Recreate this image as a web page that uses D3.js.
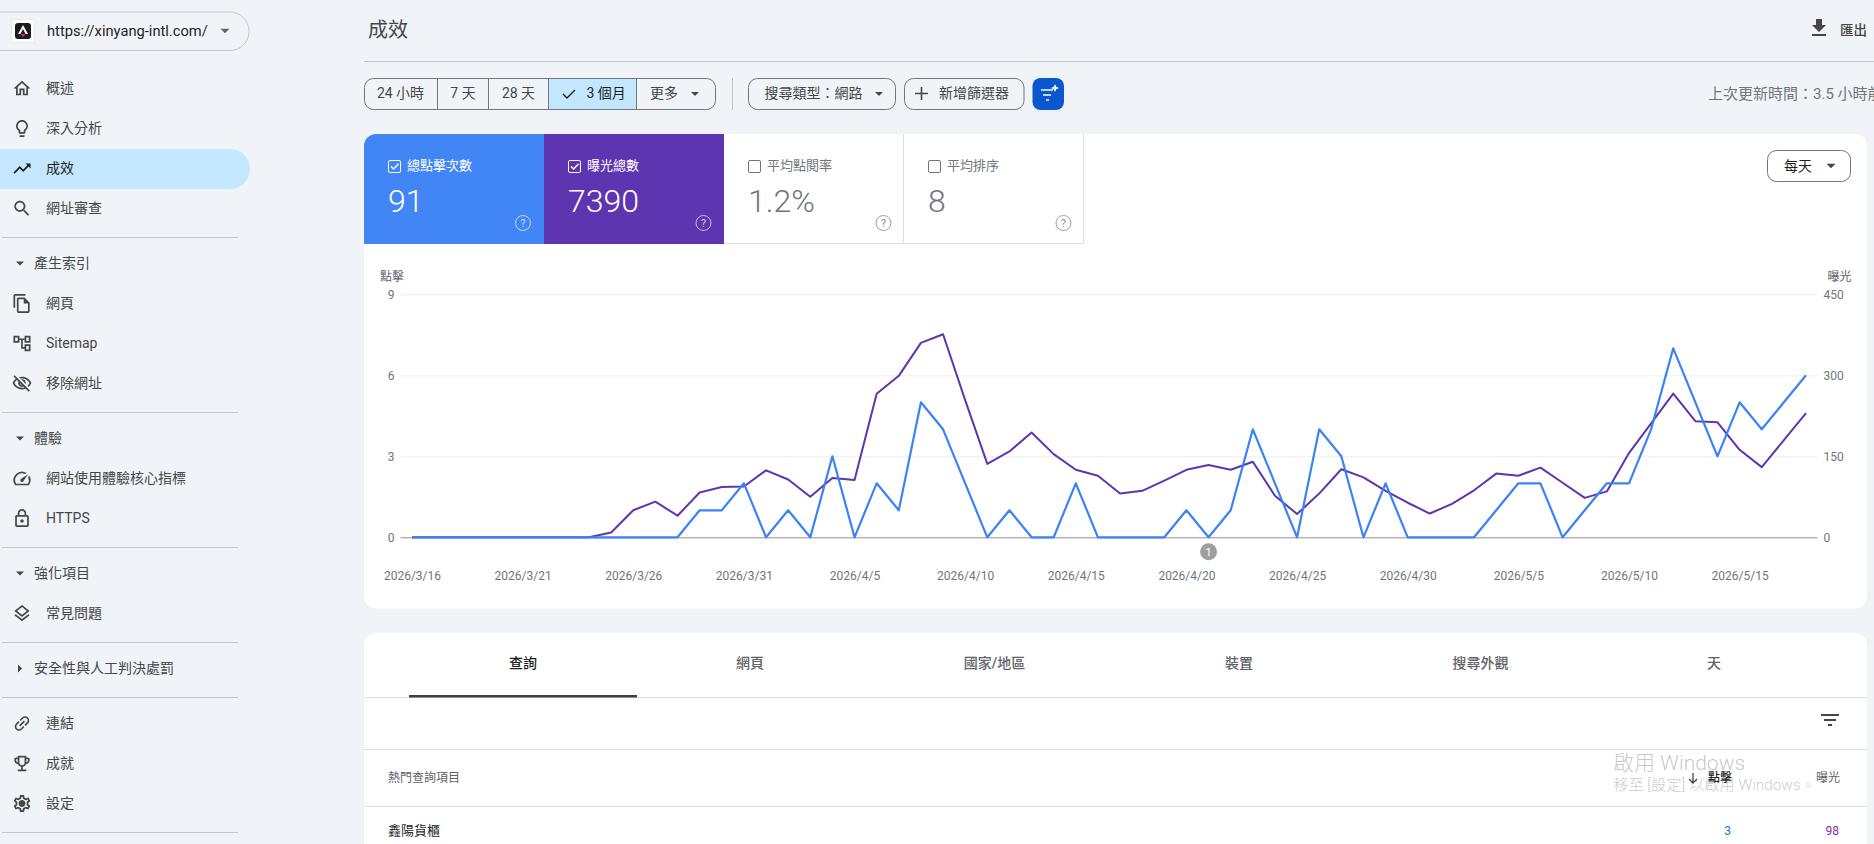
<!DOCTYPE html>
<html>
<head>
<meta charset="utf-8">
<title>成效</title>
<style>
  html, body { margin: 0; padding: 0; background: #f0f4f9; overflow: hidden; }
  svg { display: block; }
  text { font-family: Roboto, "Noto Sans CJK TC", sans-serif; }
  .tick text { font-family: Roboto, sans-serif; font-size: 12px; fill: #70757a; }
</style>
<script src="https://d3js.org/d3.v7.min.js"></script>
</head>
<body>
<script>
// chart data, one entry per day
var days = [
  "2026/3/16","2026/3/17","2026/3/18","2026/3/19","2026/3/20","2026/3/21","2026/3/22","2026/3/23",
  "2026/3/24","2026/3/25","2026/3/26","2026/3/27","2026/3/28","2026/3/29","2026/3/30","2026/3/31",
  "2026/4/1","2026/4/2","2026/4/3","2026/4/4","2026/4/5","2026/4/6","2026/4/7","2026/4/8",
  "2026/4/9","2026/4/10","2026/4/11","2026/4/12","2026/4/13","2026/4/14","2026/4/15","2026/4/16",
  "2026/4/17","2026/4/18","2026/4/19","2026/4/20","2026/4/21","2026/4/22","2026/4/23","2026/4/24",
  "2026/4/25","2026/4/26","2026/4/27","2026/4/28","2026/4/29","2026/4/30","2026/5/1","2026/5/2",
  "2026/5/3","2026/5/4","2026/5/5","2026/5/6","2026/5/7","2026/5/8","2026/5/9","2026/5/10",
  "2026/5/11","2026/5/12","2026/5/13","2026/5/14","2026/5/15","2026/5/16","2026/5/17","2026/5/18"
];
var clicks = [
  0,0,0,0,0,0,0,0,0,0,0,0,0,1,1,2,
  0,1,0,3,0,2,1,5,4,2,0,1,0,0,2,0,
  0,0,0,1,0,1,4,2,0,4,3,0,2,0,
  0,0,0,1,2,2,0,1,2,2,4,7,5,3,5,4,5,6
];
var impressions = [
  0,0,0,0,0,0,0,0,0,9,50,66,40,83,93,94,
  124,107,75,110,106,266,299,360,376,254,136,159,194,154,125,114,
  81,86,105,125,134,125,140,77,43,81,126,111,86,64,
  44,62,87,118,114,129,101,73,85,156,211,266,215,213,162,130,180,230
];
var dateTicks = ["2026/3/16","2026/3/21","2026/3/26","2026/3/31","2026/4/5","2026/4/10","2026/4/15",
                 "2026/4/20","2026/4/25","2026/4/30","2026/5/5","2026/5/10","2026/5/15"];
var clickTicks = [0, 3, 6, 9];
var imprTicks = [0, 150, 300, 450];
var annotationDay = "2026/4/21";

var w = 1874, h = 844;
var svg = d3.select("body").append("svg").attr("width", w).attr("height", h);

var icons = {
  home: "M12 5.69l5 4.5V18h-2v-6H9v6H7v-7.81l5-4.5M12 3L2 12h3v8h6v-6h2v6h6v-8h3L12 3z",
  bulb: "M9 21c0 .55.45 1 1 1h4c.55 0 1-.45 1-1v-1H9v1zm3-19C8.14 2 5 5.14 5 9c0 2.38 1.19 4.47 3 5.74V17c0 .55.45 1 1 1h6c.55 0 1-.45 1-1v-2.26c1.81-1.27 3-3.36 3-5.74 0-3.86-3.14-7-7-7zm2.85 11.1l-.85.6V16h-4v-2.3l-.85-.6C7.8 12.16 7 10.63 7 9c0-2.76 2.24-5 5-5s5 2.24 5 5c0 1.63-.8 3.16-2.15 4.1z",
  trend: "M16 6l2.29 2.29-4.88 4.88-4-4L2 16.59 3.41 18l6-6 4 4 6.3-6.29L22 12V6z",
  search: "M15.5 14h-.79l-.28-.27C15.41 12.59 16 11.11 16 9.5 16 5.91 13.09 3 9.5 3S3 5.91 3 9.5 5.91 16 9.5 16c1.61 0 3.09-.59 4.23-1.57l.27.28v.79l5 4.99L20.49 19l-4.99-5zm-6 0C7.01 14 5 11.99 5 9.5S7.01 5 9.5 5 14 7.01 14 9.5 11.99 14 9.5 14z",
  pages: "M16 1H4c-1.1 0-2 .9-2 2v14h2V3h12V1zm-1 4H8c-1.1 0-1.99.9-1.99 2L6 21c0 1.1.89 2 1.99 2H19c1.1 0 2-.9 2-2V11l-6-6zM8 21V7h6v5h5v9H8z",
  tree: "M22 11V3h-7v3H9V3H2v8h7V8h2v10h4v3h7v-8h-7v3h-2V8h2v3h7zM7 9H4V5h3v4zm10 6h3v4h-3v-4zm0-10h3v4h-3V5z",
  hidden: "M12 6c3.79 0 7.17 2.13 8.82 5.5-.59 1.22-1.42 2.27-2.41 3.12l1.41 1.41c1.39-1.23 2.49-2.77 3.18-4.53C21.27 7.11 17 4 12 4c-1.27 0-2.49.2-3.64.57l1.65 1.65C10.66 6.09 11.32 6 12 6zm-1.07 1.14L13 9.21c.57.25 1.03.71 1.28 1.28l2.07 2.07c.08-.34.14-.7.14-1.07C16.5 9.01 14.48 7 12 7c-.37 0-.72.05-1.07.14zM2.01 3.87l2.68 2.68C3.06 7.83 1.77 9.53 1 11.5 2.73 15.89 7 19 12 19c1.52 0 2.98-.29 4.32-.82l3.42 3.42 1.41-1.41L3.42 2.45 2.01 3.87zm7.5 7.5l2.61 2.61c-.04.01-.08.02-.12.02-1.38 0-2.5-1.12-2.5-2.5 0-.05.01-.08.01-.13zm-3.4-3.4l1.75 1.75c-.23.55-.36 1.15-.36 1.78 0 2.48 2.02 4.5 4.5 4.5.63 0 1.23-.13 1.77-.36l.98.98c-.88.24-1.8.38-2.75.38-3.79 0-7.17-2.13-8.82-5.5.7-1.43 1.72-2.61 2.93-3.53z",
  gauge: "M20.38 8.57l-1.23 1.85a8 8 0 0 1-.22 7.58H5.07A8 8 0 0 1 15.58 6.85l1.85-1.23A10 10 0 0 0 3.35 19a2 2 0 0 0 1.72 1h13.85a2 2 0 0 0 1.74-1 10 10 0 0 0-.27-10.44zm-9.79 6.84a2 2 0 0 0 2.83 0l5.66-8.49-8.49 5.66a2 2 0 0 0 0 2.83z",
  lock: "M18 8h-1V6c0-2.76-2.24-5-5-5S7 3.24 7 6v2H6c-1.1 0-2 .9-2 2v10c0 1.1.9 2 2 2h12c1.1 0 2-.9 2-2V10c0-1.1-.9-2-2-2zM9 6c0-1.66 1.34-3 3-3s3 1.34 3 3v2H9V6zm9 14H6V10h12v10zm-6-3c1.1 0 2-.9 2-2s-.9-2-2-2-2 .9-2 2 .9 2 2 2z",
  layers: "M11.99 18.54l-7.37-5.73L3 14.07l9 7 9-7-1.63-1.27zM12 16l7.36-5.73L21 9l-9-7-9 7 1.63 1.27L12 16zm0-11.47L17.74 9 12 13.47 6.26 9 12 4.53z",
  link: "M3.9 12c0-1.71 1.39-3.1 3.1-3.1h4V7H7c-2.76 0-5 2.24-5 5s2.24 5 5 5h4v-1.9H7c-1.71 0-3.1-1.39-3.1-3.1zM8 13h8v-2H8v2zm9-6h-4v1.9h4c1.71 0 3.1 1.39 3.1 3.1s-1.39 3.1-3.1 3.1h-4V17h4c2.76 0 5-2.24 5-5s-2.24-5-5-5z",
  trophy: "M19 5h-2V3H7v2H5c-1.1 0-2 .9-2 2v1c0 2.55 1.92 4.63 4.39 4.94.63 1.5 1.98 2.63 3.61 2.96V19H7v2h10v-2h-4v-3.1c1.63-.33 2.98-1.46 3.61-2.96C19.08 12.63 21 10.55 21 8V7c0-1.1-.9-2-2-2zM5 8V7h2v3.82C5.84 10.4 5 9.3 5 8zm7 6c-1.65 0-3-1.35-3-3V5h6v6c0 1.65-1.35 3-3 3zm7-6c0 1.3-.84 2.4-2 2.82V7h2v1z",
  gear: "M19.43 12.98c.04-.32.07-.64.07-.98 0-.34-.03-.66-.07-.98l2.11-1.65c.19-.15.24-.42.12-.64l-2-3.46c-.09-.16-.26-.25-.44-.25-.06 0-.12.01-.17.03l-2.49 1c-.52-.4-1.08-.73-1.69-.98l-.38-2.65C14.46 2.18 14.25 2 14 2h-4c-.25 0-.46.18-.49.42l-.38 2.65c-.61.25-1.17.59-1.69.98l-2.49-1c-.06-.02-.12-.03-.18-.03-.17 0-.34.09-.43.25l-2 3.46c-.13.22-.07.49.12.64l2.11 1.65c-.04.32-.07.65-.07.98 0 .33.03.66.07.98l-2.11 1.65c-.19.15-.24.42-.12.64l2 3.46c.09.16.26.25.44.25.06 0 .12-.01.17-.03l2.49-1c.52.4 1.08.73 1.69.98l.38 2.65c.03.24.24.42.49.42h4c.25 0 .46-.18.49-.42l.38-2.65c.61-.25 1.17-.59 1.69-.98l2.49 1c.06.02.12.03.18.03.17 0 .34-.09.43-.25l2-3.46c.12-.22.07-.49-.12-.64l-2.11-1.65zm-1.98-1.71c.04.31.05.52.05.73 0 .21-.02.43-.05.73l-.14 1.13.89.7 1.08.84-.7 1.21-1.27-.51-1.04-.42-.9.68c-.43.32-.84.56-1.25.73l-1.06.43-.16 1.13-.2 1.35h-1.4l-.19-1.35-.16-1.13-1.06-.43c-.43-.18-.83-.41-1.23-.71l-.91-.7-1.06.43-1.27.51-.7-1.21 1.08-.84.89-.7-.14-1.13c-.03-.31-.05-.54-.05-.74s.02-.43.05-.73l.14-1.13-.89-.7-1.08-.84.7-1.21 1.27.51 1.04.42.9-.68c.43-.32.84-.56 1.25-.73l1.06-.43.16-1.13.2-1.35h1.39l.19 1.35.16 1.13 1.06.43c.43.18.83.41 1.23.71l.91.7 1.06-.43 1.27-.51.7 1.21-1.07.85-.89.7.14 1.13zM12 8c-2.21 0-4 1.79-4 4s1.79 4 4 4 4-1.79 4-4-1.79-4-4-4z",
  download: "M19 9h-4V3H9v6H5l7 7 7-7zM5 18v2h14v-2H5z",
  filter: "M10 18h4v-2h-4v2zM3 6v2h18V6H3zm3 7h12v-2H6v2z"
};

function label(x, y, str, size, color, weight, anchor) {
  return svg.append("text")
    .attr("x", x).attr("y", y).attr("dy", "0.35em")
    .attr("font-size", size)
    .attr("fill", color || "#444746")
    .attr("font-weight", weight || 400)
    .attr("text-anchor", anchor || "start")
    .text(str);
}
function icon(name, cx, cy, size, color, rotate) {
  var s = size / 24;
  svg.append("path")
    .attr("d", icons[name])
    .attr("fill", color || "#444746")
    .attr("transform", "translate(" + cx + "," + cy + ") rotate(" + (rotate || 0) + ") scale(" + s + ") translate(-12,-12)");
}
function caretDown(x, y, r, color) {
  svg.append("path").attr("d", "M" + (x - r) + "," + (y - r / 2) + "h" + (2 * r) + "l" + (-r) + "," + r + "z").attr("fill", color || "#444746");
}
function hline(x1, x2, y, color) {
  svg.append("line").attr("x1", x1).attr("x2", x2).attr("y1", y).attr("y2", y)
    .attr("stroke", color || "#c4c7c5").attr("stroke-width", 1);
}
function box(x, y, width, height, r, fill, stroke) {
  return svg.append("rect").attr("x", x).attr("y", y).attr("width", width).attr("height", height)
    .attr("rx", r).attr("fill", fill || "none").attr("stroke", stroke || "none");
}

// sidebar
box(-30, 12, 279, 38.5, 19, "none", "#c4c7c5");
box(11.5, 19.5, 23, 23, 2, "#fff", "#e8e8e8");
box(15, 23, 16, 16, 3, "#1c1b1f");
svg.append("path").attr("d", "M23,25l5,9h-2.4l-2.6,-5l-2.6,5h-2.4z").attr("fill", "#fff");
svg.append("path").attr("d", "M20.5,34h5l-2.5,3z").attr("fill", "#e91e8c");
label(47, 30.5, "https://xinyang-intl.com/", 14.7, "#1f1f1f");
caretDown(225, 31, 4.5, "#5f6368");

box(-30, 149, 280, 40, 20, "#c2e7ff");

var navRows = [
  ["概述", 88.5, "home"], ["深入分析", 128.5, "bulb"], ["成效", 168.5, "trend"], ["網址審查", 208.5, "search"],
  ["網頁", 303.5, "pages"], ["Sitemap", 343.5, "tree"], ["移除網址", 383.5, "hidden"],
  ["網站使用體驗核心指標", 478.5, "gauge"], ["HTTPS", 518.5, "lock"], ["常見問題", 613.5, "layers"],
  ["連結", 723.5, "link"], ["成就", 763.5, "trophy"], ["設定", 803.5, "gear"]
];
navRows.forEach(function (d) {
  var active = d[0] === "成效";
  icon(d[2], 22, d[1], 20.5, active ? "#1f1f1f" : "#444746", d[2] === "link" ? -45 : 0);
  label(46, d[1], d[0], 14, active ? "#1f1f1f" : "#444746");
});
[["產生索引", 263.5], ["體驗", 438.5], ["強化項目", 573.5]].forEach(function (d) {
  caretDown(20, d[1], 4, "#444746");
  label(34, d[1], d[0], 14);
});
svg.append("path").attr("d", "M18,664.5l4,4l-4,4z").attr("fill", "#444746");
label(34, 668.5, "安全性與人工判決處罰", 14);
[237.5, 412.5, 547.5, 642.5, 697.5, 832.5].forEach(function (y) { hline(2, 238, y); });

// header row
label(368, 29.5, "成效", 20, "#444746");
hline(364, w, 61.5);
icon("download", 1819, 28, 24, "#444746");
label(1840, 30, "匯出", 13.5, "#444746", 500);

// range chips
box(364.5, 78.5, 351, 31, 9, "none", "#747775");
svg.append("path").attr("d", "M548,79h88v30h-88z").attr("fill", "#c2e7ff");
[437.5, 488.5, 548.5, 636.5].forEach(function (x) {
  svg.append("line").attr("x1", x).attr("x2", x).attr("y1", 79).attr("y2", 109).attr("stroke", "#747775");
});
label(400.5, 93.5, "24 小時", 14, "#444746", 400, "middle");
label(463, 93.5, "7 天", 14, "#444746", 400, "middle");
label(518.5, 93.5, "28 天", 14, "#444746", 400, "middle");
svg.append("path").attr("d", "M563,94l4,4l8,-8").attr("fill", "none").attr("stroke", "#1f1f1f").attr("stroke-width", 1.4);
label(586.5, 93.5, "3 個月", 14, "#1f1f1f", 400);
label(650, 93.5, "更多", 14, "#444746");
caretDown(695, 94, 4, "#444746");
svg.append("line").attr("x1", 732.5).attr("x2", 732.5).attr("y1", 78).attr("y2", 110).attr("stroke", "#c4c7c5");
box(748.5, 78.5, 147, 31, 9, "none", "#747775");
label(764.5, 93.5, "搜尋類型：網路", 14, "#444746");
caretDown(879, 94, 4, "#444746");
box(904.5, 78.5, 119.5, 31, 9, "none", "#747775");
svg.append("path").attr("d", "M921.5,87v13M915,93.5h13").attr("stroke", "#444746").attr("stroke-width", 1.6);
label(939, 93.5, "新增篩選器", 14, "#444746");
box(1032.5, 78, 31.5, 32, 8, "#0b57d0");
svg.append("path").attr("d", "M1041,90h12M1043,95h8M1046,100h3").attr("stroke", "#fff").attr("stroke-width", 1.6);
svg.append("path").attr("d", "M1055,84l1.2,2.8l2.8,1.2l-2.8,1.2l-1.2,2.8l-1.2,-2.8l-2.8,-1.2l2.8,-1.2z").attr("fill", "#fff");
label(1708, 93.5, "上次更新時間：3.5 小時前", 15, "#70757a");

// performance card
box(364, 134, 1503, 474.5, 12, "#fff");
svg.append("path").attr("d", "M364,244V146a12,12 0 0 1 12,-12H544V244z").attr("fill", "#4285f4");
svg.append("path").attr("d", "M544,134h180v110h-180z").attr("fill", "#5e35b1");
hline(724, 1083, 243.5, "#e0e0e0");
[903.5, 1083.5].forEach(function (x) {
  svg.append("line").attr("x1", x).attr("x2", x).attr("y1", 134).attr("y2", 244).attr("stroke", "#e0e0e0");
});

var tiles = [
  { x: 388, title: "總點擊次數", value: "91", on: true, help: 523 },
  { x: 568, title: "曝光總數", value: "7390", on: true, help: 703.5 },
  { x: 748, title: "平均點閱率", value: "1.2%", on: false, help: 883.5 },
  { x: 928, title: "平均排序", value: "8", on: false, help: 1063.5 }
];
tiles.forEach(function (t) {
  box(t.x + 0.5, 160.5, 12, 12, 1.5, "none", t.on ? "#fff" : "#70757a");
  if (t.on) {
    svg.append("path").attr("d", "M" + (t.x + 3) + ",166.5l2.6,2.6l5,-5.4").attr("fill", "none").attr("stroke", "#fff").attr("stroke-width", 1.4);
  }
  label(t.x + 19, 165, t.title, 13, t.on ? "#fff" : "#70757a", 400);
  label(t.x, 200.5, t.value, 32, t.on ? "#fff" : "#70757a", 300);
  svg.append("circle").attr("cx", t.help).attr("cy", 223).attr("r", 7.5)
    .attr("fill", "none").attr("stroke", t.on ? "rgba(255,255,255,.65)" : "#9e9e9e");
  label(t.help, 223, "?", 10.5, t.on ? "rgba(255,255,255,.75)" : "#8a8a8a", 400, "middle");
});

box(1767.5, 150.5, 83, 31, 9, "#fff", "#747775");
label(1784, 166, "每天", 14, "#1f1f1f", 400);
caretDown(1831, 166, 4.5, "#444746");

// chart
var plotLeft = 400.5, plotRight = 1817.5, plotTop = 294.3, plotBottom = 537.3;
var x = d3.scalePoint().domain(days).range([412, 1806]);
var yClicks = d3.scaleLinear().domain([0, 9]).range([plotBottom, plotTop]);
var yImpr = d3.scaleLinear().domain([0, 450]).range([plotBottom, plotTop]);

label(380, 277, "點擊", 12, "#5f6368");
label(1827.5, 277, "曝光", 12, "#5f6368");

var leftAxis = svg.append("g")
  .attr("transform", "translate(" + plotLeft + ",0)")
  .call(d3.axisLeft(yClicks).tickValues(clickTicks).tickSize(-(plotRight - plotLeft)).tickPadding(6));
leftAxis.select(".domain").remove();
leftAxis.selectAll(".tick line").attr("stroke", function (d) { return d === 0 ? "#8f8f8f" : "#eeeeee"; });

var rightAxis = svg.append("g")
  .attr("transform", "translate(" + plotRight + ",0)")
  .call(d3.axisRight(yImpr).tickValues(imprTicks).tickSize(0).tickPadding(6));
rightAxis.select(".domain").remove();

var bottomAxis = svg.append("g")
  .attr("transform", "translate(0," + plotBottom + ")")
  .call(d3.axisBottom(x).tickValues(dateTicks).tickSize(0).tickPadding(34.5));
bottomAxis.select(".domain").remove();

svg.append("path")
  .datum(impressions)
  .attr("fill", "none").attr("stroke", "#5e35b1").attr("stroke-width", 2).attr("stroke-linejoin", "round")
  .attr("d", d3.line().x(function (d, i) { return x(days[i]); }).y(function (d) { return yImpr(d); }));
svg.append("path")
  .datum(clicks)
  .attr("fill", "none").attr("stroke", "#3b82f6").attr("stroke-width", 2.2).attr("stroke-linejoin", "round")
  .attr("d", d3.line().x(function (d, i) { return x(days[i]); }).y(function (d) { return yClicks(d); }));

svg.append("circle").attr("cx", x(annotationDay)).attr("cy", 551.7).attr("r", 8.5).attr("fill", "#9e9e9e");
label(x(annotationDay), 551.7, "1", 11, "#fff", 400, "middle");

// table card
box(364, 633, 1503, 240, 12, "#fff");
var tabNames = ["查詢", "網頁", "國家/地區", "裝置", "搜尋外觀", "天"];
var tabX = [523, 750, 994.5, 1239, 1480.5, 1714];
tabNames.forEach(function (t, i) {
  label(tabX[i], 663.5, t, 14, i === 0 ? "#1f1f1f" : "#5f6368", 500, "middle");
});
hline(364, 1867, 697.5, "#e0e0e0");
svg.append("rect").attr("x", 409).attr("y", 695).attr("width", 228).attr("height", 2.5).attr("fill", "#3c4043");
icon("filter", 1830, 720, 24, "#444746");
hline(364, 1867, 749.5, "#e0e0e0");
label(388, 777.5, "熱門查詢項目", 12, "#5f6368");
svg.append("path").attr("d", "M1693,773v10M1689,779l4,4l4,-4").attr("fill", "none").attr("stroke", "#444746").attr("stroke-width", 1.3);
label(1708, 777.5, "點擊", 12, "#1f1f1f", 500);
label(1816, 777.5, "曝光", 12, "#5f6368");
hline(364, 1867, 806.5, "#e0e0e0");
label(388, 830, "鑫陽貨櫃", 13, "#1f1f1f", 400);
label(1731, 830.5, "3", 12, "#1a73e8", 400, "end");
label(1839, 830.5, "98", 12, "#8e24aa", 400, "end");

// activation watermark from the screenshot
label(1613, 762.5, "啟用 Windows", 21, "rgba(60,60,60,0.3)", 300);
label(1613, 785, "移至 [設定] 以啟用 Windows。", 15.3, "rgba(60,60,60,0.3)", 300);
</script>
</body>
</html>
